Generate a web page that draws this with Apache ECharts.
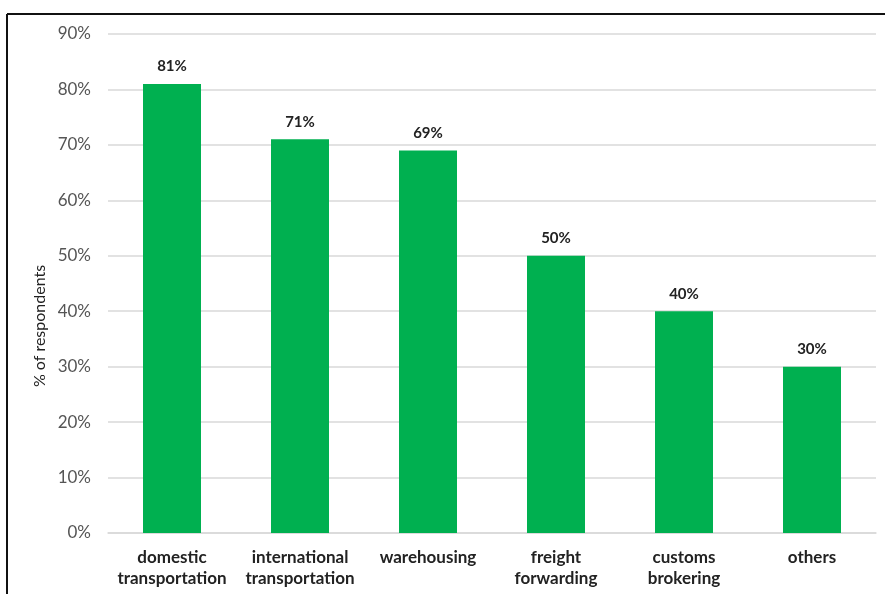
<!DOCTYPE html>
<html><head><meta charset="utf-8">
<script src="https://cdn.jsdelivr.net/npm/echarts@6/dist/echarts.min.js"></script>
<style>html,body{margin:0;padding:0;background:#fff}#c{width:885px;height:594px}</style>
</head><body><div id="c"></div>
<script>
var categories = ['domestic\ntransportation', 'international\ntransportation', 'warehousing', 'freight\nforwarding', 'customs\nbrokering', 'others'];
var values = [81, 71, 69, 50, 40, 30];
var yTicks = [0, 10, 20, 30, 40, 50, 60, 70, 80, 90];
var yTitle = '% of respondents';

var chart = echarts.init(document.getElementById('c'));
var font = 'Lato, "Liberation Sans", sans-serif';
chart.setOption({
  animation: false,
  graphic: [
    {type: 'line', shape: {x1: 7, y1: 14, x2: 885, y2: 14}, style: {stroke: '#111', lineWidth: 2}},
    {type: 'line', shape: {x1: 7, y1: 14, x2: 7, y2: 594}, style: {stroke: '#111', lineWidth: 2}},
    {type: 'text', x: 40, y: 326, rotation: Math.PI / 2,
     style: {text: yTitle, fill: '#222', font: '16px ' + font, textAlign: 'center', textVerticalAlign: 'middle'}}
  ],
  grid: {left: 108, right: 9, top: 34, bottom: 61, containLabel: false},
  xAxis: {
    type: 'category', data: categories,
    axisLine: {lineStyle: {color: '#d9d9d9', width: 1.5}},
    axisTick: {show: false},
    axisLabel: {color: '#222', fontFamily: font, fontWeight: 'bold', fontSize: 17, lineHeight: 21, margin: 14, interval: 0}
  },
  yAxis: {
    type: 'value', min: yTicks[0], max: yTicks[yTicks.length - 1], interval: 10,
    axisLine: {show: false}, axisTick: {show: false},
    axisLabel: {color: '#555', fontFamily: font, fontSize: 17, margin: 17, formatter: function (v) { return v + '%'; }},
    splitLine: {lineStyle: {color: '#d9d9d9', width: 1.5}}
  },
  series: [{
    type: 'bar', data: values, barWidth: 58,
    itemStyle: {color: '#00B050'},
    label: {show: true, position: 'top', distance: 10, color: '#222', fontFamily: font, fontWeight: 'bold', fontSize: 15, formatter: function (p) { return p.value + '%'; }}
  }]
});
</script></body></html>
